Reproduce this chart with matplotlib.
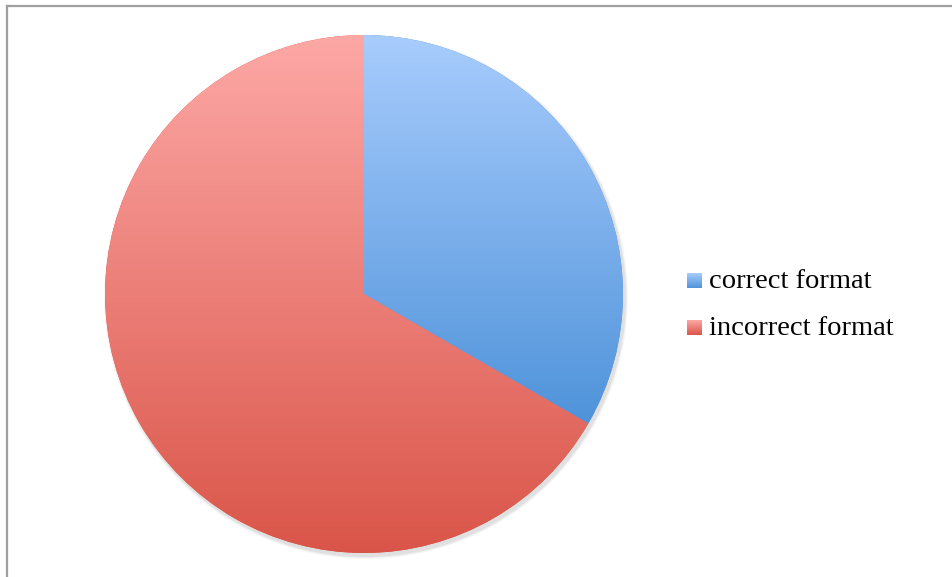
import numpy as np
import matplotlib.pyplot as plt
from matplotlib.lines import Line2D
from matplotlib.patches import Circle
from matplotlib.colors import LinearSegmentedColormap

# data
labels = ["correct format", "incorrect format"]
values = [1, 2]
top_colors = ["#a8ccfd", "#fda8a6"]
bottom_colors = ["#4f93da", "#da5549"]

W, H = 953, 577
fig = plt.figure(figsize=(W / 100, H / 100), dpi=100)
ax = fig.add_axes([0, 0, 1, 1])

cx, cy, r = 364, 577 - 294, 259

# soft shadow
for k, a in enumerate([0.05, 0.04, 0.03]):
    ax.add_patch(Circle((cx + 2, cy - 3), r + 1 + k, color="black", alpha=a, lw=0, zorder=1))

wedges, _ = ax.pie(values, center=(cx, cy), radius=r, startangle=90, counterclock=False,
                   colors=bottom_colors, wedgeprops=dict(linewidth=0), frame=True)

grad = np.linspace(0, 1, 256).reshape(-1, 1)
for w, c0, c1 in zip(wedges, top_colors, bottom_colors):
    w.set_zorder(2)
    ext = w.get_path().get_extents()
    cmap = LinearSegmentedColormap.from_list("g", [c1, c0])
    im = ax.imshow(grad, cmap=cmap, aspect="auto", origin="lower",
                   extent=[ext.x0, ext.x1, ext.y0, ext.y1], zorder=3, interpolation="bilinear")
    im.set_clip_path(w)

# legend
leg_y = [577 - 280, 577 - 327]
for lab, yy, c0, c1 in zip(labels, leg_y, top_colors, bottom_colors):
    cmap = LinearSegmentedColormap.from_list("g", [c1, c0])
    ax.imshow(grad, cmap=cmap, aspect="auto", origin="lower",
              extent=[687, 702, yy - 7.5, yy + 7.5], zorder=3)
    ax.text(709, yy - 1, lab, fontsize=20.5, family="Liberation Serif", va="center", ha="left",
            color="black")

ax.set_xlim(0, W)
ax.set_ylim(0, H)
ax.set_aspect("equal")
ax.axis("off")

# outer border (only top and left visible in the crop)
bx, by = 7.5 / W, 1 - 6 / H
fig.lines.append(Line2D([bx, 1.05], [by, by], transform=fig.transFigure, color="#a0a0a0", lw=1.6))
fig.lines.append(Line2D([bx, bx], [-0.05, by], transform=fig.transFigure, color="#a0a0a0", lw=1.6))

fig.savefig("out.png", dpi=100)
